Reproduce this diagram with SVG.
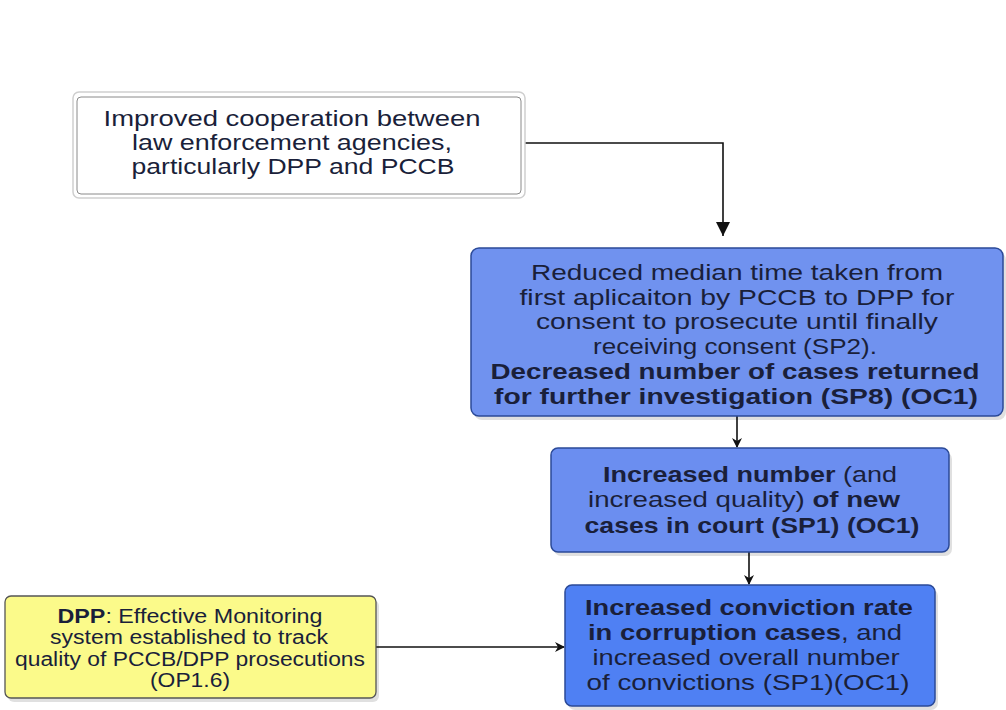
<svg xmlns="http://www.w3.org/2000/svg" width="1006" height="710" viewBox="0 0 1006 710">
<defs>
<style>
.t{font-family:"Liberation Sans",Arial,sans-serif;font-size:22px;fill:#1a1f3a;text-anchor:middle}
.s{font-size:20px}
.b{font-weight:bold}
.blue{stroke:#2b4a98;stroke-width:1.5}
.sh{fill:#000;opacity:0.12}
.c{fill:none;stroke:#111;stroke-width:1.6}
</style>
<marker id="ah" markerWidth="10" markerHeight="10" refX="9" refY="5" orient="auto" markerUnits="userSpaceOnUse"><path d="M0,0 L10,5 L0,10 L3,5 Z" fill="#111"/></marker>
<marker id="ahb" markerWidth="16" markerHeight="14" refX="14" refY="7" orient="auto" markerUnits="userSpaceOnUse"><path d="M0,0 L14,7 L0,14 Z" fill="#111"/></marker>
</defs>
<rect width="1006" height="710" fill="#fff"/>
<g id="connectors">
<path class="c" d="M521,143 H723 V236" marker-end="url(#ahb)"/>
<path class="c" d="M737,416 V447" marker-end="url(#ah)"/>
<path class="c" d="M749,552 V584" marker-end="url(#ah)"/>
<path class="c" d="M376,647 H564" marker-end="url(#ah)"/>
</g>
<g id="n1">
<rect x="73" y="92" width="452" height="106" rx="6" fill="#fff" stroke="#cfcfcf" stroke-width="1.5"/>
<rect x="77" y="97" width="444" height="97" rx="4" fill="#fff" stroke="#8a8a8a" stroke-width="1"/>
<text class="t" x="292" y="126" textLength="377" lengthAdjust="spacingAndGlyphs">Improved cooperation between</text>
<text class="t" x="292" y="150" textLength="320" lengthAdjust="spacingAndGlyphs">law enforcement agencies,</text>
<text class="t" x="293" y="174" textLength="323" lengthAdjust="spacingAndGlyphs">particularly DPP and PCCB</text>
</g>
<g id="n2">
<rect class="sh" x="474" y="252" width="532" height="168" rx="8"/>
<rect class="blue" x="471" y="248" width="532" height="168" rx="8" fill="#7092ef"/>
<text class="t" x="737" y="280" textLength="412" lengthAdjust="spacingAndGlyphs">Reduced median time taken from</text>
<text class="t" x="737" y="305" textLength="435" lengthAdjust="spacingAndGlyphs">first aplicaiton by PCCB to DPP for</text>
<text class="t" x="737" y="329" textLength="402" lengthAdjust="spacingAndGlyphs">consent to prosecute until finally</text>
<text class="t" x="735" y="354" textLength="284" lengthAdjust="spacingAndGlyphs">receiving consent (SP2).</text>
<text class="t b" x="735" y="379" textLength="489" lengthAdjust="spacingAndGlyphs">Decreased number of cases returned</text>
<text class="t b" x="736" y="404" textLength="484" lengthAdjust="spacingAndGlyphs">for further investigation (SP8) (OC1)</text>
</g>
<g id="n3">
<rect class="sh" x="554" y="452" width="398" height="104" rx="7"/>
<rect class="blue" x="551" y="448" width="398" height="104" rx="7" fill="#6b8ef0"/>
<text class="t" x="750" y="482" textLength="294" lengthAdjust="spacingAndGlyphs"><tspan class="b">Increased number</tspan> (and</text>
<text class="t" x="744" y="507" textLength="312" lengthAdjust="spacingAndGlyphs">increased quality) <tspan class="b">of new</tspan></text>
<text class="t b" x="752" y="533" textLength="335" lengthAdjust="spacingAndGlyphs">cases in court (SP1) (OC1)</text>
</g>
<g id="n4">
<rect class="sh" x="568" y="589" width="370" height="121" rx="7"/>
<rect class="blue" x="565" y="585" width="370" height="121" rx="7" fill="#4f80f3"/>
<text class="t b" x="749" y="615" textLength="328" lengthAdjust="spacingAndGlyphs">Increased conviction rate</text>
<text class="t" x="745" y="640" textLength="314" lengthAdjust="spacingAndGlyphs"><tspan class="b">in corruption cases</tspan>, and</text>
<text class="t" x="746" y="665" textLength="307" lengthAdjust="spacingAndGlyphs">increased overall number</text>
<text class="t" x="748" y="690" textLength="323" lengthAdjust="spacingAndGlyphs">of convictions (SP1)(OC1)</text>
</g>
<g id="n5">
<rect class="sh" x="8" y="600" width="371" height="102" rx="6"/>
<rect x="5" y="596" width="371" height="102" rx="6" fill="#fbfa8a" stroke="#555" stroke-width="1.3"/>
<text class="t s" x="190" y="623" textLength="265" lengthAdjust="spacingAndGlyphs"><tspan class="b">DPP</tspan>: Effective Monitoring</text>
<text class="t s" x="189" y="644" textLength="278" lengthAdjust="spacingAndGlyphs">system established to track</text>
<text class="t s" x="190" y="666" textLength="350" lengthAdjust="spacingAndGlyphs">quality of PCCB/DPP prosecutions</text>
<text class="t s" x="190" y="687" textLength="80" lengthAdjust="spacingAndGlyphs">(OP1.6)</text>
</g>
</svg>
